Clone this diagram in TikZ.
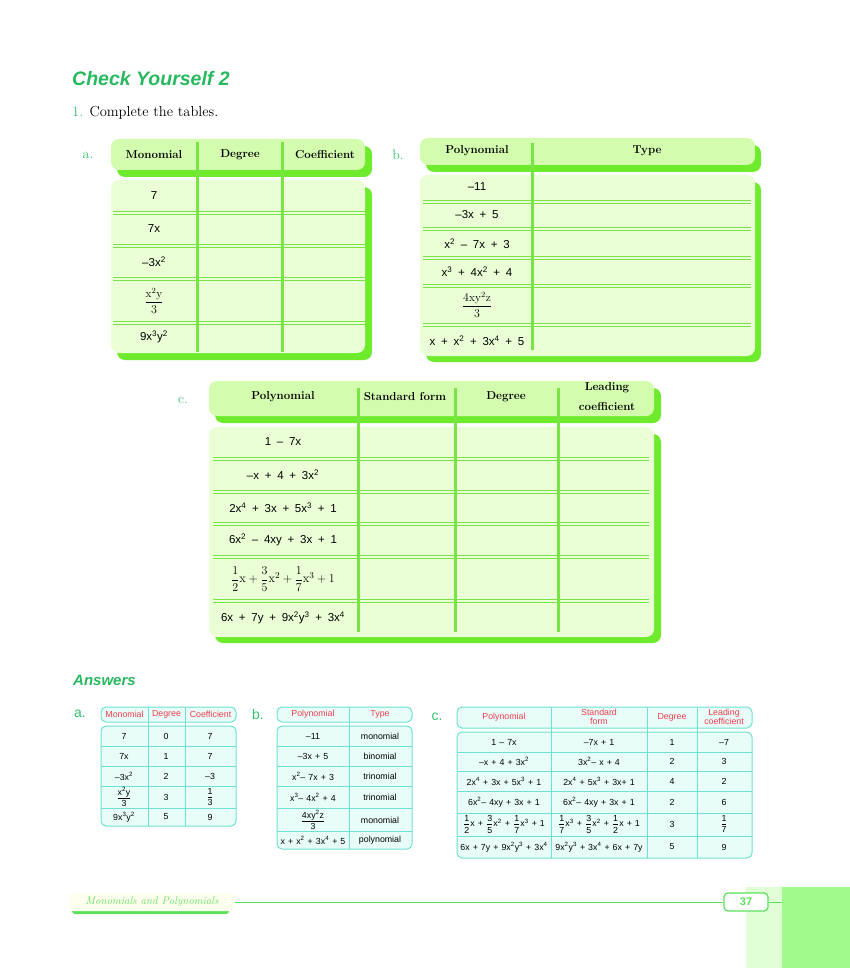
\documentclass[tikz,border=0pt]{standalone}
\usepackage{amsmath}
\usepackage{fontspec}
\newfontfamily\sansfont{Liberation Sans}
\definecolor{titlegreen}{RGB}{40,185,95}
\definecolor{labelgreen}{RGB}{50,195,110}
\definecolor{headfill}{RGB}{212,252,175}
\definecolor{bodyfill}{RGB}{235,255,215}
\definecolor{shadowgreen}{RGB}{110,235,45}
\definecolor{linegreen}{RGB}{120,228,70}
\definecolor{ansborder}{RGB}{110,225,210}
\definecolor{ansfill}{RGB}{232,253,248}
\definecolor{ansred}{RGB}{240,60,80}
\definecolor{footgreen}{RGB}{90,225,90}
\definecolor{ivoryfill}{RGB}{255,255,240}
\definecolor{bandlight}{RGB}{225,255,215}
\definecolor{banddark}{RGB}{160,250,140}
\newcommand\sq[1]{\textsuperscript{#1}}
\newcommand\sfr[2]{$\dfrac{\text{#1}}{\text{#2}}$}
\tikzset{
	gbox/.style={rounded corners=8pt},
	colline/.style={draw=linegreen, line width=3pt},
	rowline/.style={draw=linegreen, line width=0.9pt},
	tcell/.style={font=\sansfont\fontsize{11.5}{13}\selectfont, execute at begin node={\spaceskip=0.5em\relax}, inner sep=0pt},
	hcell/.style={font=\bfseries\fontsize{11.5}{15}\selectfont, inner sep=0pt, align=center},
	labeltext/.style={text=labelgreen, font=\fontsize{14}{16}\selectfont, inner sep=0pt},
	anslabel/.style={text=labelgreen, font=\sansfont\fontsize{14}{16}\selectfont, inner sep=0pt},
	ansbox/.style={draw=ansborder, fill=ansfill, rounded corners=5pt, line width=1pt},
	ansline/.style={draw=ansborder, line width=1pt},
	acell/.style={font=\sansfont\fontsize{8.8}{9.5}\selectfont, execute at begin node={\spaceskip=0.35em\relax}, inner sep=0pt, align=center},
	ahead/.style={acell, text=ansred},
	titletext/.style={anchor=west, inner sep=0pt, text=titlegreen, font=\sansfont\bfseries\itshape\fontsize{19.5}{22}\selectfont},
}

\begin{document}
\begin{tikzpicture}[x=1pt,y=-1pt]
	\useasboundingbox (0,0) rectangle (850,968);
	\node[titletext] (title) at (72,79) {Check Yourself 2};
	\node[anchor=west, inner sep=0pt, font=\fontsize{14.5}{16}\selectfont] (task) at (72,113) {\textcolor{labelgreen}{1.} Complete the tables.};

	% table a
	\node[labeltext] (la) at (88,155) {a.};
	\fill[gbox, shadowgreen] (117,146) rectangle (372,177);
	\fill[gbox, headfill] (111,139) rectangle (365,170);
	\fill[gbox, shadowgreen] (117,187) rectangle (372,360);
	\fill[gbox, bodyfill] (111,180) rectangle (365,353);
	\foreach \y in {213,246,279,323} {
		\draw[rowline] (113,\y-1.3) -- (365,\y-1.3);
		\draw[rowline] (113,\y+1.3) -- (365,\y+1.3);
	}
	\foreach \x in {197,282} \draw[colline] (\x,142) -- (\x,352);
	\node[hcell] (ah1) at (154,155) {Monomial};
	\node[hcell] (ah2) at (240,155) {Degree};
	\node[hcell] (ah3) at (325,155) {Coefficient};
	\foreach \y/\t [count=\i] in {196/7, 229/7x, 262/–3x\sq2, 301/{$\dfrac{\mathrm{x}^2\mathrm{y}}{3}$}, 337/9x\sq3y\sq2}
		\node[tcell] (a\i) at (154,\y) {\t};

	% table b
	\node[labeltext] (lb) at (398,155) {b.};
	\fill[gbox, shadowgreen] (426,145) rectangle (761,172);
	\fill[gbox, headfill] (420,138) rectangle (755,165);
	\fill[gbox, shadowgreen] (426,182) rectangle (761,362);
	\fill[gbox, bodyfill] (420,175) rectangle (755,356);
	\foreach \y in {202,229,258,286,325} {
		\draw[rowline] (423,\y-1.3) -- (751,\y-1.3);
		\draw[rowline] (423,\y+1.3) -- (751,\y+1.3);
	}
	\draw[colline] (532,143) -- (532,350);
	\node[hcell] (bh1) at (477,151) {Polynomial};
	\node[hcell] (bh2) at (647,151) {Type};
	\foreach \y/\t [count=\i] in {187/–11, 215/–3x + 5, 244/x\sq2 – 7x + 3, 272/x\sq3 + 4x\sq2 + 4, 305/{$\dfrac{4\mathrm{xy}^2\mathrm{z}}{3}$}, 341/x + x\sq2 + 3x\sq4 + 5}
		\node[tcell] (b\i) at (477,\y) {\t};

	% table c
	\node[labeltext] (lc) at (183,400) {c.};
	\fill[gbox, shadowgreen] (215,388) rectangle (661,423);
	\fill[gbox, headfill] (209,381) rectangle (654,416);
	\fill[gbox, shadowgreen] (215,434) rectangle (661,643);
	\fill[gbox, bodyfill] (209,427) rectangle (654,637);
	\foreach \y in {459,492,524,557,601} {
		\draw[rowline] (213,\y-1.3) -- (649,\y-1.3);
		\draw[rowline] (213,\y+1.3) -- (649,\y+1.3);
	}
	\foreach \x in {358,455,558} \draw[colline] (\x,388) -- (\x,632);
	\node[hcell] (ch1) at (283,397) {Polynomial};
	\node[hcell] (ch2) at (405,397) {Standard form};
	\node[hcell] (ch3) at (506,397) {Degree};
	\node[hcell, font=\bfseries\fontsize{11.5}{20}\selectfont] (ch4) at (607,397) {Leading\\coefficient};
	\foreach \y/\t [count=\i] in {442/1 – 7x, 475/–x + 4 + 3x\sq2, 508/2x\sq4 + 3x + 5x\sq3 + 1, 540/6x\sq2 – 4xy + 3x + 1, 579/{\fontsize{12.5}{14}\selectfont$\dfrac12\mathrm{x}+\dfrac35\mathrm{x}^2+\dfrac17\mathrm{x}^3+1$}, 618/6x + 7y + 9x\sq2y\sq3 + 3x\sq4}
		\node[tcell] (c\i) at (283,\y) {\t};

	% answers
	\node[titletext, font=\sansfont\bfseries\itshape\fontsize{15}{17}\selectfont] (answers) at (73,680) {Answers};

	% answers a
	\node[anslabel] (ala) at (80,714) {a.};
	\draw[ansbox] (101,707) rectangle (236,722);
	\draw[ansbox] (101,726) rectangle (236,826);
	\foreach \y in {746,766,786,808} \draw[ansline] (101,\y) -- (236,\y);
	\foreach \x in {148,185} \draw[ansline] (\x,707) -- (\x,826);
	\node[ahead] (aah1) at (124.5,714.5) {Monomial};
	\node[ahead] (aah2) at (166.5,714.5) {Degree};
	\node[ahead] (aah3) at (210.5,714.5) {Coefficient};
	\foreach \y/\m/\d/\k [count=\i] in {736/7/0/7, 756/7x/1/7, 776/–3x\sq2/2/–3, 797/{\sfr{x\sq2y}{3}}/3/{\sfr13}, 817/9x\sq3y\sq2/5/9}
	{
		\node[acell] (aam\i) at (124,\y) {\m};
		\node[acell] (aad\i) at (166,\y) {\d};
		\node[acell] (aak\i) at (210,\y) {\k};
	}

	% answers b
	\node[anslabel] (alb) at (258,714) {b.};
	\draw[ansbox] (277,707) rectangle (412,722);
	\draw[ansbox] (277,726) rectangle (412,849);
	\foreach \y in {746,766,786,808,831} \draw[ansline] (277,\y) -- (412,\y);
	\draw[ansline] (349,707) -- (349,849);
	\node[ahead] (abh1) at (313,714.5) {Polynomial};
	\node[ahead] (abh2) at (380,714.5) {Type};
	\foreach \y/\p/\t [count=\i] in {736/–11/monomial, 756/–3x + 5/binomial, 776/x\sq2– 7x + 3/trinomial, 797/x\sq3– 4x\sq2 + 4/trinomial, 820/{\sfr{4xy\sq2z}{3}}/monomial, 840/x + x\sq2 + 3x\sq4 + 5/polynomial}
	{
		\node[acell] (abp\i) at (313,\y) {\p};
		\node[acell] (abt\i) at (380,\y) {\t};
	}

	% answers c
	\node[anslabel] (alc) at (437,717) {c.};
	\draw[ansbox] (457,707) rectangle (752,728);
	\draw[ansbox] (457,732) rectangle (752,858);
	\foreach \y in {752,771,791,813,836} \draw[ansline] (457,\y) -- (752,\y);
	\foreach \x in {551,647,697} \draw[ansline] (\x,707) -- (\x,858);
	\node[ahead] (ach1) at (504,717) {Polynomial};
	\node[ahead] (ach2) at (599,717) {Standard\\form};
	\node[ahead] (ach3) at (672,717) {Degree};
	\node[ahead] (ach4) at (724,717) {Leading\\coefficient};
	\foreach \y/\p/\s/\d/\l [count=\i] in {742/1 – 7x/–7x + 1/1/–7, 761/–x + 4 + 3x\sq2/3x\sq2– x + 4/2/3, 781/2x\sq4 + 3x + 5x\sq3 + 1/2x\sq4 + 5x\sq3 + 3x+ 1/4/2, 802/6x\sq2– 4xy + 3x + 1/6x\sq2– 4xy + 3x + 1/2/6, 824/{\sfr12x + \sfr35x\sq2 + \sfr17x\sq3 + 1}/{\sfr17x\sq3 + \sfr35x\sq2 + \sfr12x + 1}/3/{\sfr17}, 847/6x + 7y + 9x\sq2y\sq3 + 3x\sq4/9x\sq2y\sq3 + 3x\sq4 + 6x + 7y/5/9}
	{
		\node[acell] (acp\i) at (504,\y) {\p};
		\node[acell] (acs\i) at (599,\y) {\s};
		\node[acell] (acd\i) at (672,\y) {\d};
		\node[acell] (acl\i) at (724,\y) {\l};
	}

	% footer
	\fill[bandlight] (746,887) rectangle (782,968);
	\fill[banddark] (782,887) rectangle (850,968);
	\fill[footgreen, rounded corners=3pt] (72,906) rectangle (229,914);
	\node[fill=ivoryfill, rounded corners=3pt, minimum width=166pt, minimum height=18pt, inner sep=0pt, text=footgreen, font=\itshape\fontsize{11}{13}\selectfont] (chap) at (152,902) {Monomials and Polynomials};
	\node[draw=footgreen, fill=white, line width=1.2pt, rounded corners=4pt, minimum width=44pt, minimum height=18pt, inner sep=0pt, text=footgreen, font=\sansfont\bfseries\fontsize{11}{13}\selectfont] (page) at (746,902) {37};
	\draw[footgreen, line width=1pt] (chap.east) -- (page.west);
	\draw[footgreen, line width=1pt] (page.east) -- (782,902);
\end{tikzpicture}
\end{document}
